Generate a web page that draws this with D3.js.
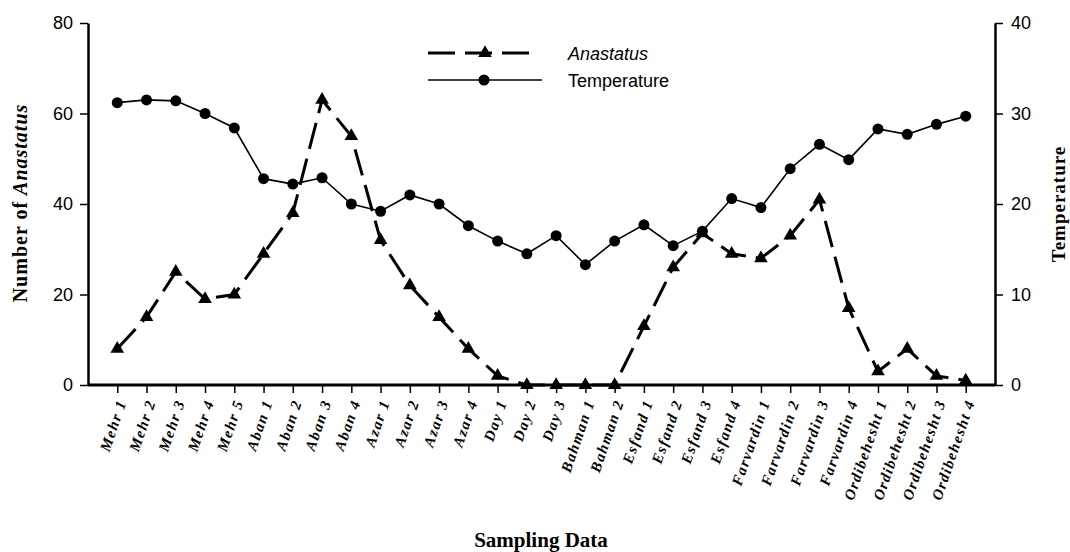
<!DOCTYPE html>
<html>
<head>
<meta charset="utf-8">
<script src="https://cdn.jsdelivr.net/npm/d3@7"></script>
<style>
  html, body { margin: 0; padding: 0; background: #fff; }
  svg { display: block; }
</style>
</head>
<body>
<svg id="chart" width="1070" height="552"></svg>
<script>
const categories = [
  "Mehr 1","Mehr 2","Mehr 3","Mehr 4","Mehr 5",
  "Aban 1","Aban 2","Aban 3","Aban 4",
  "Azar 1","Azar 2","Azar 3","Azar 4",
  "Day 1","Day 2","Day 3",
  "Bahman 1","Bahman 2",
  "Esfand 1","Esfand 2","Esfand 3","Esfand 4",
  "Farvardin 1","Farvardin 2","Farvardin 3","Farvardin 4",
  "Ordibehesht 1","Ordibehesht 2","Ordibehesht 3","Ordibehesht 4"
];
const anastatus = [8,15,25,19,20,29,38,63,55,32,22,15,8,2,0,0,0,0,13,26,33.5,29,28,33,41,17,3,8,2,1];
const temperature = [31.2,31.5,31.4,30,28.4,22.8,22.2,22.9,20,19.2,21,20,17.6,15.9,14.5,16.5,13.3,15.9,17.7,15.4,17,20.6,19.6,23.9,26.6,24.9,28.3,27.7,28.8,29.7];
const leftTicks = [0,20,40,60,80];
const rightTicks = [0,10,20,30,40];
const seriesNames = ["Anastatus","Temperature"];

const svg = d3.select("#chart");
const L = 88, R = 995, T = 23, B = 385;

const x = d3.scalePoint().domain(categories).range([L, R]).padding(1);
const yL = d3.scaleLinear().domain([0, 80]).range([B, T]);
const yR = d3.scaleLinear().domain([0, 40]).range([B, T]);

// Left axis
const gL = svg.append("g").attr("transform", `translate(${L},0)`)
  .call(d3.axisLeft(yL).tickValues(leftTicks).tickSize(8).tickSizeOuter(0));
gL.select(".domain").attr("stroke", "#000").attr("stroke-width", 2.5);
gL.selectAll(".tick line").attr("stroke", "#000").attr("stroke-width", 1.5);
gL.selectAll(".tick text").attr("font-family", "Arial, 'Liberation Sans', sans-serif")
  .attr("font-size", 18).attr("fill", "#000").attr("x", -15);

// Right axis
const gR = svg.append("g").attr("transform", `translate(${R},0)`)
  .call(d3.axisRight(yR).tickValues(rightTicks).tickSize(8).tickSizeOuter(0));
gR.select(".domain").attr("stroke", "#000").attr("stroke-width", 2.5);
gR.selectAll(".tick line").attr("stroke", "#000").attr("stroke-width", 1.5);
gR.selectAll(".tick text").attr("font-family", "Arial, 'Liberation Sans', sans-serif")
  .attr("font-size", 18).attr("fill", "#000").attr("x", 16);

// Bottom axis
const gB = svg.append("g").attr("transform", `translate(0,${B})`)
  .call(d3.axisBottom(x).tickSize(8).tickSizeOuter(0));
gB.select(".domain").attr("stroke", "#000").attr("stroke-width", 3)
  .attr("d", `M${L},0H${R}`);
gB.selectAll(".tick line").attr("stroke", "#000").attr("stroke-width", 1.5);
gB.selectAll(".tick text").remove();
gB.selectAll(".tick").append("text")
  .attr("transform", "translate(4,15) rotate(-71)")
  .attr("text-anchor", "end")
  .attr("dy", "0.35em")
  .attr("font-family", "'Times New Roman', 'Liberation Serif', serif")
  .attr("font-weight", "bold")
  .attr("font-style", "italic")
  .attr("font-size", 15)
  .attr("letter-spacing", "1.4px")
  .attr("fill", "#000")
  .text(d => d);

// Temperature line
const lineT = d3.line().x((d, i) => x(categories[i])).y(d => yR(d));
svg.append("path").datum(temperature)
  .attr("fill", "none").attr("stroke", "#000").attr("stroke-width", 1.6)
  .attr("d", lineT);
svg.append("g").selectAll("circle").data(temperature).join("circle")
  .attr("cx", (d, i) => x(categories[i])).attr("cy", d => yR(d))
  .attr("r", 5.5).attr("fill", "#000");

// Anastatus line
const lineA = d3.line().x((d, i) => x(categories[i])).y(d => yL(d));
svg.append("path").datum(anastatus)
  .attr("fill", "none").attr("stroke", "#000").attr("stroke-width", 3)
  .attr("stroke-dasharray", "27,10")
  .attr("d", lineA);
const tri = d3.symbol().type(d3.symbolTriangle).size(80);
svg.append("g").selectAll("path").data(anastatus).join("path")
  .attr("transform", (d, i) => `translate(${x(categories[i])},${yL(d)})`)
  .attr("d", tri).attr("fill", "#000");

// Legend
const lg = svg.append("g");
lg.append("line").attr("x1", 428).attr("x2", 529).attr("y1", 53).attr("y2", 53)
  .attr("stroke", "#000").attr("stroke-width", 3).attr("stroke-dasharray", "27,10");
lg.append("path").attr("transform", "translate(485,53)").attr("d", tri).attr("fill", "#000");
lg.append("text").attr("x", 568).attr("y", 60)
  .attr("font-family", "Arial, 'Liberation Sans', sans-serif").attr("font-size", 18)
  .attr("font-style", "italic").text(seriesNames[0]);
lg.append("line").attr("x1", 428).attr("x2", 542).attr("y1", 80).attr("y2", 80)
  .attr("stroke", "#000").attr("stroke-width", 1.6);
lg.append("circle").attr("cx", 484).attr("cy", 80).attr("r", 5.5).attr("fill", "#000");
lg.append("text").attr("x", 568).attr("y", 87)
  .attr("font-family", "Arial, 'Liberation Sans', sans-serif").attr("font-size", 18)
  .text(seriesNames[1]);

// Axis titles
const serif = "'Times New Roman', 'Liberation Serif', serif";
const lt = svg.append("text")
  .attr("transform", "translate(27,203) rotate(-90)")
  .attr("text-anchor", "middle")
  .attr("font-family", serif).attr("font-weight", "bold").attr("font-size", 20)
  .attr("letter-spacing", "1px");
lt.append("tspan").text("Number of ");
lt.append("tspan").attr("font-style", "italic").text("Anastatus");

svg.append("text")
  .attr("transform", "translate(1065,204) rotate(-90)")
  .attr("text-anchor", "middle")
  .attr("font-family", serif).attr("font-weight", "bold").attr("font-size", 19)
  .attr("letter-spacing", "1px")
  .text("Temperature");

svg.append("text")
  .attr("x", 541).attr("y", 547)
  .attr("text-anchor", "middle")
  .attr("font-family", serif).attr("font-weight", "bold").attr("font-size", 21)
  .text("Sampling Data");
</script>
</body>
</html>
